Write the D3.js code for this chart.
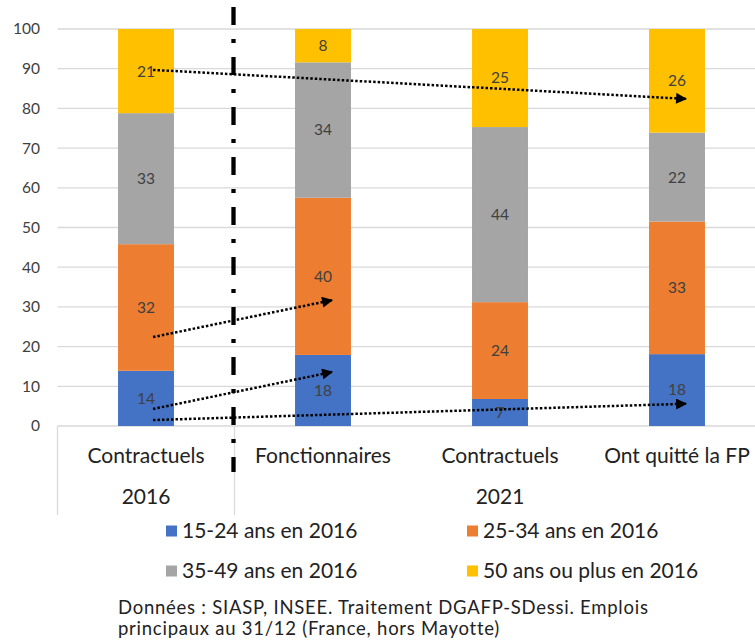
<!DOCTYPE html>
<html>
<head>
<meta charset="utf-8">
<script src="https://cdn.jsdelivr.net/npm/d3@7"></script>
<style>
  body { margin: 0; background: #fff; }
  text { font-family: Lato, "Noto Sans", sans-serif; }
</style>
</head>
<body>
<div id="chart"></div>
<script>
// data
const categories = ['c2016', 'fonc', 'c2021', 'quit'];
const categoryLabels = ['Contractuels', 'Fonctionnaires', 'Contractuels', 'Ont quitté la FP'];
const groups = [
    {label: '2016', first: 'c2016', last: 'c2016'},
    {label: '2021', first: 'fonc', last: 'quit'}
];
const seriesNames = ['15-24 ans en 2016', '25-34 ans en 2016', '35-49 ans en 2016', '50 ans ou plus en 2016'];
const age1524 = [13.9, 17.9, 6.8, 18.1];
const age2534 = [31.9, 39.6, 24.4, 33.4];
const age3549 = [33.0, 34.1, 44.1, 22.4];
const age50 = [21.2, 8.4, 24.7, 26.1];
const yTicks = [0, 10, 20, 30, 40, 50, 60, 70, 80, 90, 100];
// dotted arrows: from (category, value) to (category, value)
const arrows = [
    {from: 'c2016', v0: 89.7, to: 'quit', v1: 82.4},
    {from: 'c2016', v0: 22.4, to: 'fonc', v1: 31.7},
    {from: 'c2016', v0: 4.3, to: 'fonc', v1: 13.6},
    {from: 'c2016', v0: 1.5, to: 'quit', v1: 5.6}
];
const colors = ['#4472C4', '#ED7D31', '#A5A5A5', '#FFC000'];

const width = 755, height = 640;
const svg = d3.select('#chart')
    .append('svg')
    .attr('width', width)
    .attr('height', height);

const xScale = d3.scaleBand()
    .domain(categories)
    .range([57.5, 765.5]);

const yScale = d3.scaleLinear()
    .domain([0, 100])
    .range([426, 29]);

const barW = xScale.bandwidth() * 0.316;

// gridlines
svg.append('g')
    .selectAll('line')
    .data(yTicks)
    .join('line')
    .attr('x1', 57.5)
    .attr('x2', width)
    .attr('y1', d => yScale(d))
    .attr('y2', d => yScale(d))
    .attr('stroke', '#d9d9d9')
    .attr('stroke-width', 1.3);

// y axis labels
const yAxis = d3.axisLeft(yScale)
    .tickValues(yTicks)
    .tickSize(0)
    .tickPadding(0);
svg.append('g')
    .attr('transform', 'translate(40,0)')
    .call(yAxis)
    .call(g => g.select('.domain').remove())
    .selectAll('text')
    .attr('font-size', 15.5)
    .attr('fill', '#404040')
    .attr('font-family', 'Lato, sans-serif');

// stacked bars
const rows = categories.map((c, i) => ({
    cat: c, a: age1524[i], b: age2534[i], c: age3549[i], d: age50[i]
}));
const stack = d3.stack().keys(['a', 'b', 'c', 'd']);
const layers = stack(rows);

const layerG = svg.append('g')
    .selectAll('g')
    .data(layers)
    .join('g')
    .attr('fill', (d, i) => colors[i]);

layerG.selectAll('rect')
    .data(d => d)
    .join('rect')
    .attr('x', d => xScale(d.data.cat) + (xScale.bandwidth() - barW) / 2)
    .attr('width', barW)
    .attr('y', d => yScale(Math.min(d[1], 100)))
    .attr('height', d => yScale(d[0]) - yScale(Math.min(d[1], 100)));

layerG.selectAll('text')
    .data(d => d)
    .join('text')
    .attr('x', d => xScale(d.data.cat) + xScale.bandwidth() / 2)
    .attr('y', d => yScale((d[0] + Math.min(d[1], 100)) / 2))
    .attr('dy', '0.35em')
    .attr('text-anchor', 'middle')
    .attr('font-size', 15.5)
    .attr('fill', '#404040')
    .text(d => d3.format('.0f')(d[1] - d[0]));

// category axis (two levels)
const axisG = svg.append('g');
axisG.selectAll('.sep')
    .data([57.5, xScale('fonc')])
    .join('line')
    .attr('x1', d => d)
    .attr('x2', d => d)
    .attr('y1', 426)
    .attr('y2', 515)
    .attr('stroke', '#d9d9d9')
    .attr('stroke-width', 1.3);

axisG.selectAll('.cat')
    .data(categories)
    .join('text')
    .attr('x', d => xScale(d) + xScale.bandwidth() / 2)
    .attr('y', 456)
    .attr('dy', '0.35em')
    .attr('text-anchor', 'middle')
    .attr('font-size', 21)
    .attr('fill', '#222')
    .text((d, i) => categoryLabels[i]);

axisG.selectAll('.grp')
    .data(groups)
    .join('text')
    .attr('x', d => (xScale(d.first) + xScale(d.last) + xScale.bandwidth()) / 2)
    .attr('y', 497)
    .attr('dy', '0.35em')
    .attr('text-anchor', 'middle')
    .attr('font-size', 21)
    .attr('fill', '#222')
    .text(d => d.label);

// dash-dot separator
svg.append('line')
    .attr('x1', xScale('fonc') - 1)
    .attr('x2', xScale('fonc') - 1)
    .attr('y1', 7)
    .attr('y2', 472)
    .attr('stroke', '#000')
    .attr('stroke-width', 4.3)
    .attr('stroke-dasharray', '18,14,4,14');

// arrows
svg.append('defs')
    .append('marker')
    .attr('id', 'head')
    .attr('viewBox', '0 0 10 10')
    .attr('refX', 9)
    .attr('refY', 5)
    .attr('markerUnits', 'userSpaceOnUse')
    .attr('markerWidth', 12)
    .attr('markerHeight', 11)
    .attr('orient', 'auto')
    .append('path')
    .attr('d', 'M0,0L10,5L0,10Z')
    .attr('fill', '#000');

svg.append('g')
    .selectAll('line')
    .data(arrows)
    .join('line')
    .attr('x1', d => xScale(d.from) + xScale.bandwidth() / 2 + 7)
    .attr('y1', d => yScale(d.v0))
    .attr('x2', d => xScale(d.to) + xScale.bandwidth() / 2 + 9)
    .attr('y2', d => yScale(d.v1))
    .attr('stroke', '#000')
    .attr('stroke-width', 2.5)
    .attr('stroke-dasharray', '2.5,2')
    .attr('marker-end', 'url(#head)');

// legend
const legendPos = [[166, 531], [467, 531], [166, 571], [467, 571]];
const legend = svg.append('g')
    .selectAll('g')
    .data(seriesNames)
    .join('g')
    .attr('transform', (d, i) => 'translate(' + legendPos[i][0] + ',' + legendPos[i][1] + ')');
legend.append('rect')
    .attr('x', 0)
    .attr('y', -5.5)
    .attr('width', 11)
    .attr('height', 11)
    .attr('fill', (d, i) => colors[i]);
legend.append('text')
    .attr('x', 16)
    .attr('dy', '0.35em')
    .attr('font-size', 21)
    .attr('fill', '#222')
    .text(d => d);

// source note
const note = svg.append('text')
    .attr('x', 118)
    .attr('font-size', 18.5)
    .attr('letter-spacing', 0.75)
    .attr('fill', '#222')
    .attr('font-family', '"Noto Sans", sans-serif');
note.append('tspan').attr('x', 118).attr('y', 614)
    .text('Données : SIASP, INSEE. Traitement DGAFP-SDessi. Emplois');
note.append('tspan').attr('x', 118).attr('y', 635)
    .text('principaux au 31/12 (France, hors Mayotte)');
</script>
</body>
</html>
